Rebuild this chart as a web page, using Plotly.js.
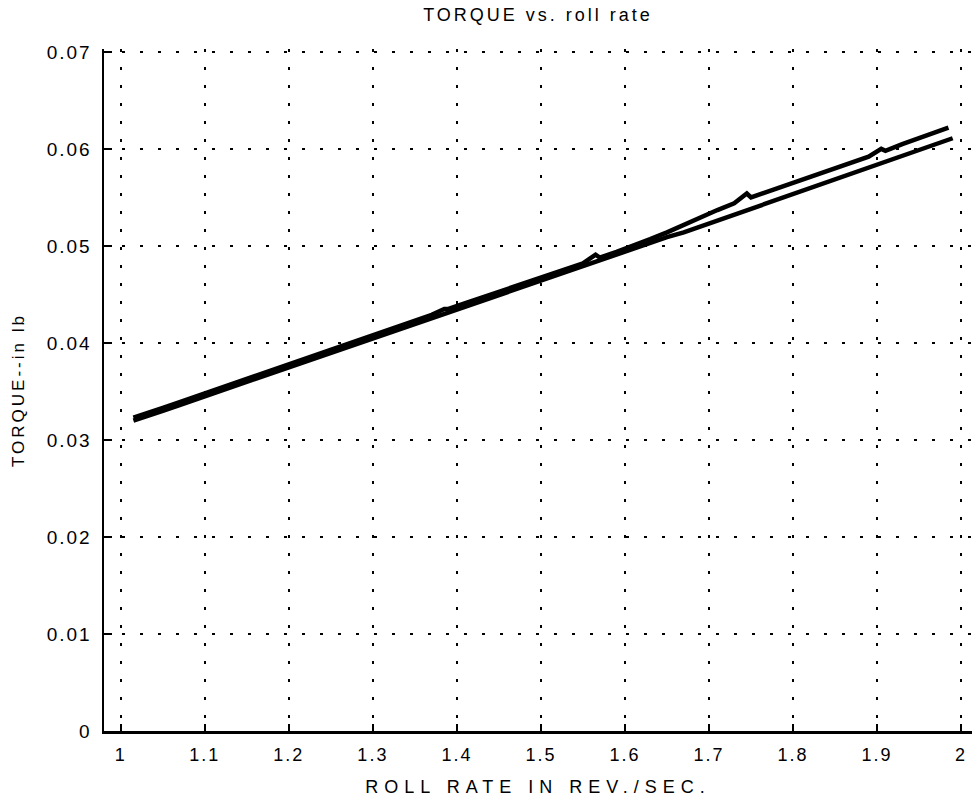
<!DOCTYPE html>
<html>
<head>
<meta charset="utf-8">
<script src="https://cdn.plot.ly/plotly-3.0.1.min.js"></script>
<style>
  html, body { margin: 0; padding: 0; background: #fff; }
  #chart { width: 972px; height: 797px; }
  .gtitle { letter-spacing: 3px; }
  .xtitle { letter-spacing: 6px; }
  .ytitle { letter-spacing: 3px; }
  .xtick text, .ytick text { letter-spacing: 2px; }
</style>
</head>
<body>
<div id="chart"></div>
<script>
// Run 1 (upper trace, diverges above ~1.65 rev/sec)
var rollRateA = [1.015,1.03,1.05,1.07,1.09,1.11,1.13,1.15,1.17,1.19,
                 1.21,1.23,1.25,1.27,1.29,1.31,1.33,1.35,1.37,1.385,
                 1.39,1.41,1.43,1.45,1.47,1.49,1.51,1.53,1.55,1.565,
                 1.57,1.59,1.61,1.63,1.65,1.67,1.69,1.71,1.73,1.745,
                 1.75,1.77,1.79,1.81,1.83,1.85,1.87,1.89,1.905,1.91,
                 1.93,1.95,1.97,1.985];
var torqueA   = [0.0323,0.0327,0.0333,0.0339,0.0345,0.0351,0.0357,0.0363,0.0369,0.0375,
                 0.0381,0.0387,0.0393,0.0399,0.0405,0.0411,0.0417,0.0423,0.0429,0.0435,
                 0.0435,0.0441,0.0447,0.0453,0.0459,0.0465,0.0470,0.0476,0.0482,0.0491,
                 0.0488,0.0494,0.0500,0.0507,0.0514,0.0522,0.0530,0.0537,0.0544,0.0554,
                 0.0550,0.0556,0.0561,0.0567,0.0573,0.0579,0.0586,0.0592,0.0600,0.0598,
                 0.0605,0.0611,0.0617,0.0622];

// Run 2 (lower trace)
var rollRateB = [1.015,1.03,1.05,1.07,1.09,1.11,1.13,1.15,1.17,1.19,
                 1.21,1.23,1.25,1.27,1.29,1.31,1.33,1.35,1.37,1.39,
                 1.41,1.43,1.45,1.47,1.49,1.51,1.53,1.55,1.57,1.59,
                 1.61,1.63,1.65,1.67,1.69,1.71,1.73,1.75,1.77,1.79,
                 1.81,1.83,1.85,1.87,1.89,1.91,1.93,1.95,1.97,1.99];
var torqueB   = [0.0320,0.0324,0.0330,0.0336,0.0342,0.0348,0.0354,0.0360,0.0366,0.0372,
                 0.0378,0.0384,0.0390,0.0396,0.0402,0.0408,0.0414,0.0420,0.0426,0.0432,
                 0.0438,0.0444,0.0450,0.0456,0.0462,0.0467,0.0473,0.0479,0.0485,0.0491,
                 0.0497,0.0503,0.0509,0.0514,0.0520,0.0526,0.0532,0.0538,0.0544,0.0550,
                 0.0556,0.0562,0.0568,0.0574,0.0580,0.0586,0.0592,0.0598,0.0604,0.0611];

var xTickVals = [1,1.1,1.2,1.3,1.4,1.5,1.6,1.7,1.8,1.9,2];
var xTickText = ['1','1.1','1.2','1.3','1.4','1.5','1.6','1.7','1.8','1.9','2'];
var yTickVals = [0,0.01,0.02,0.03,0.04,0.05,0.06,0.07];
var yTickText = ['0','0.01','0.02','0.03','0.04','0.05','0.06','0.07'];

var FONT = 'Liberation Sans, Arial, Helvetica, sans-serif';

var traces = [
  {x: rollRateA, y: torqueA, type: 'scatter', mode: 'lines',
   line: {color: '#000', width: 4.5}, hoverinfo: 'skip'},
  {x: rollRateB, y: torqueB, type: 'scatter', mode: 'lines',
   line: {color: '#000', width: 4.5}, hoverinfo: 'skip'}
];

var gridDash = '3px,15px';

var layout = {
  width: 972, height: 797,
  margin: {l: 104, r: 0, t: 49, b: 66, pad: 0},
  paper_bgcolor: '#fff', plot_bgcolor: '#fff',
  showlegend: false,
  font: {family: FONT, color: '#000', size: 18},
  title: {text: 'TORQUE vs. roll rate', font: {family: FONT, size: 18, color: '#000'},
          xref: 'paper', x: 0.5, xanchor: 'center',
          yref: 'container', y: 1 - 15/797, yanchor: 'middle'},
  xaxis: {
    range: [0.98, 2.013], autorange: false,
    tickmode: 'array', tickvals: xTickVals, ticktext: xTickText,
    ticks: 'inside', ticklen: 7, tickwidth: 2, tickcolor: '#000',
    showline: true, linecolor: '#000', linewidth: 2.5,
    showgrid: true, gridcolor: '#000', gridwidth: 2.5, griddash: gridDash,
    zeroline: false, mirror: false,
    tickfont: {family: FONT, size: 18, color: '#000'},
    ticklabelstandoff: 6,
    title: {text: 'ROLL RATE IN REV./SEC.', font: {family: FONT, size: 18, color: '#000'}, standoff: 18}
  },
  yaxis: {
    range: [0, 0.0703], autorange: false,
    tickmode: 'array', tickvals: yTickVals, ticktext: yTickText,
    ticks: 'inside', ticklen: 8, tickwidth: 2, tickcolor: '#000',
    showline: true, linecolor: '#000', linewidth: 2.5,
    showgrid: true, gridcolor: '#000', gridwidth: 2.5, griddash: gridDash,
    zeroline: false, mirror: false,
    tickfont: {family: FONT, size: 19, color: '#000'},
    ticklabelstandoff: 6,
    title: {text: 'TORQUE--in lb', font: {family: FONT, size: 17, color: '#000'}, standoff: 18}
  }
};

Plotly.newPlot('chart', traces, layout, {staticPlot: true, displayModeBar: false});
</script>
</body>
</html>
